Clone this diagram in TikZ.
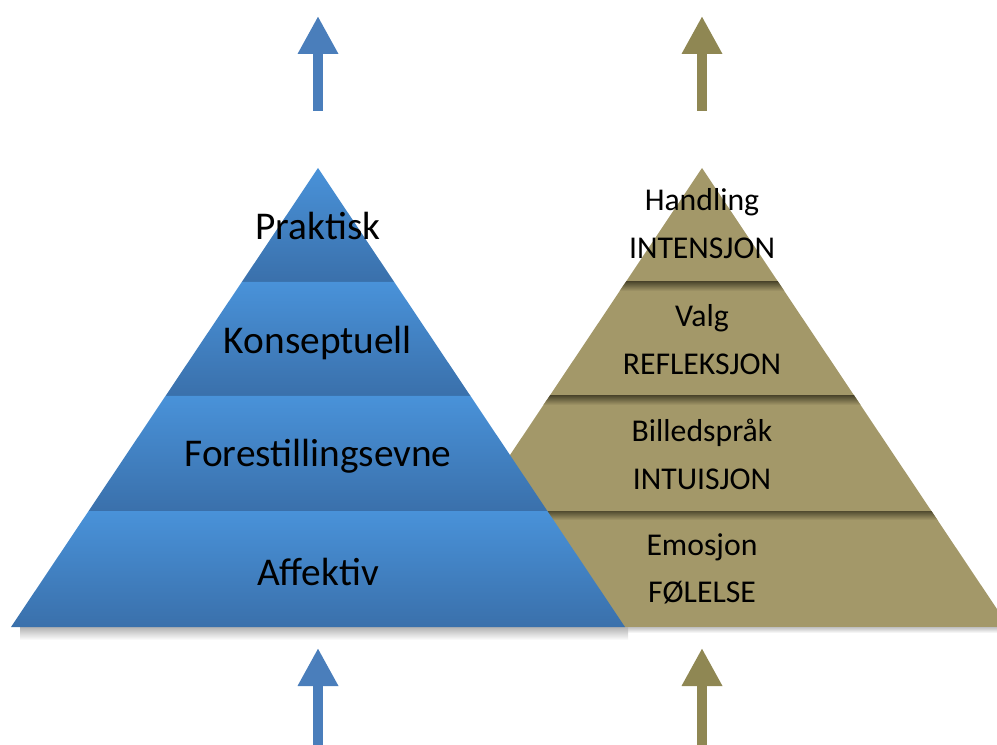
\documentclass[tikz,border=0pt]{standalone}
\usepackage{fontspec}
\setmainfont{Carlito}
\usetikzlibrary{arrows.meta}

\definecolor{pyrblue}{HTML}{4992D9}
\definecolor{pyrbluedark}{HTML}{3A70AB}
\definecolor{arrowblue}{HTML}{4A7EBB}
\definecolor{olive}{HTML}{A39869}
\definecolor{olivedark}{HTML}{514B30}
\definecolor{arrowolive}{HTML}{8F8753}

\begin{document}
\begin{tikzpicture}[x=0.75pt, y=-0.75pt,
    blueband/.style={top color=pyrblue, bottom color=pyrbluedark},
    bandshadow/.style={top color=olivedark, bottom color=olive},
    bigarrow/.style={line width=7.5pt, -{Triangle[width=28.5pt, length=28.5pt]}},
    bluelabel/.style={font=\fontsize{29.5}{32}\selectfont},
    olivelabel/.style={font=\fontsize{23.8}{26}\selectfont, align=center}]
    \useasboundingbox (0,0) rectangle (997,745);
    \clip (0,0) rectangle (997,745);

    % olive pyramid (behind)
    \fill[olive] (702,168) -- (1009,627) -- (395,627) -- cycle;
    \begin{scope}
        \clip (702,168) -- (1009,627) -- (395,627) -- cycle;
        \shade[bandshadow] (380,282) rectangle (1010,291);
        \shade[bandshadow] (380,396) rectangle (1010,405);
        \shade[bandshadow] (380,511) rectangle (1010,520);
    \end{scope}
    % soft shadow under the bases
    \shade[top color=black!25, bottom color=white] (395,627) rectangle (997,633);
    \shade[top color=black!30, bottom color=white] (20,627) rectangle (628,640);

    % blue pyramid, four bands
    \shade[blueband] (318,168) -- (394.2,282) -- (241.8,282) -- cycle;
    \shade[blueband] (241.8,282) -- (394.2,282) -- (470.5,396) -- (165.5,396) -- cycle;
    \shade[blueband] (165.5,396) -- (470.5,396) -- (547.4,511) -- (88.6,511) -- cycle;
    \shade[blueband] (88.6,511) -- (547.4,511) -- (625,627) -- (11,627) -- cycle;

    \node[bluelabel] (praktisk) at (318,226) {Praktisk};
    \node[bluelabel] (konseptuell) at (318,343) {Konseptuell};
    \node[bluelabel] (forestilling) at (318,456) {Forestillingsevne};
    \node[bluelabel] (affektiv) at (318,572) {Affektiv};

    \node[olivelabel] (handling) at (702,202) {Handling};
    \node[olivelabel] (intensjon) at (702,248) {INTENSJON};
    \node[olivelabel] (valg) at (702,318) {Valg};
    \node[olivelabel] (refleksjon) at (702,364) {REFLEKSJON};
    \node[olivelabel] (billed) at (702,433) {Billedspråk};
    \node[olivelabel] (intuisjon) at (702,479) {INTUISJON};
    \node[olivelabel] (emosjon) at (702,547) {Emosjon};
    \node[olivelabel] (folelse) at (702,593) {FØLELSE};

    % arrows above and below
    \coordinate (bluetopfrom) at (318,111);
    \coordinate (bluetopto) at (318,16);
    \coordinate (olivetopfrom) at (702,111);
    \coordinate (olivetopto) at (702,16);
    \coordinate (bluebotfrom) at (318,745);
    \coordinate (bluebotto) at (318,648);
    \coordinate (olivebotfrom) at (702,745);
    \coordinate (olivebotto) at (702,648);
    \draw[bigarrow, arrowblue] (bluetopfrom) -- (bluetopto);
    \draw[bigarrow, arrowolive] (olivetopfrom) -- (olivetopto);
    \draw[bigarrow, arrowblue] (bluebotfrom) -- (bluebotto);
    \draw[bigarrow, arrowolive] (olivebotfrom) -- (olivebotto);
\end{tikzpicture}
\end{document}
